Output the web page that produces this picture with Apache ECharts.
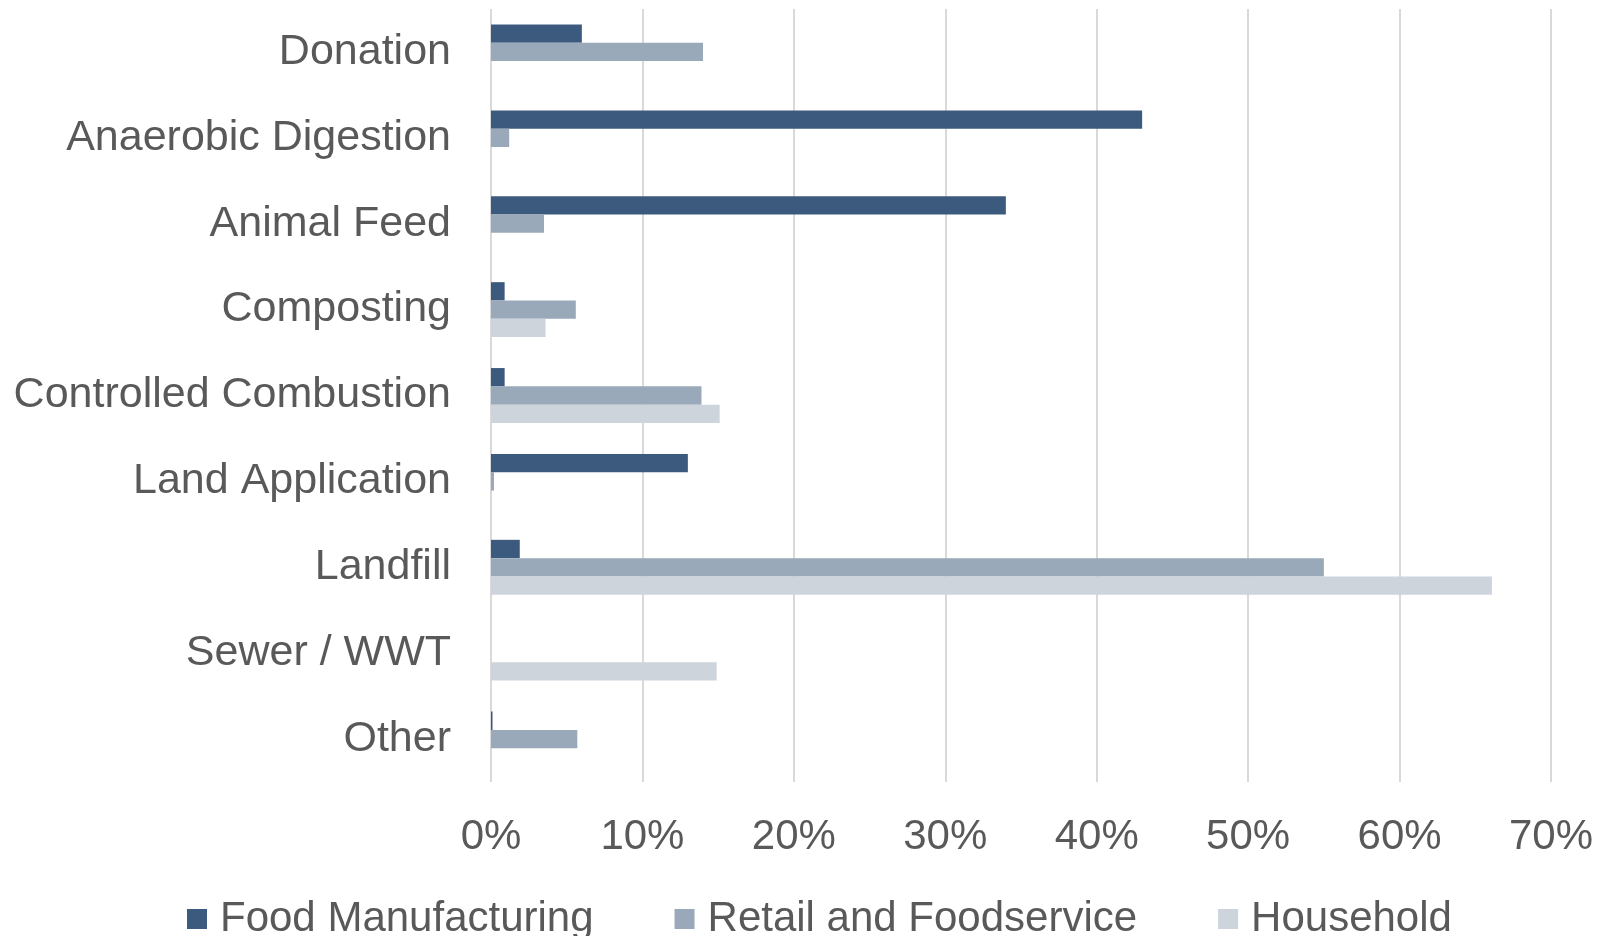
<!DOCTYPE html>
<html>
<head>
<meta charset="utf-8">
<style>
  html, body { margin: 0; padding: 0; background: #ffffff; }
  #chart { width: 1598px; height: 936px; }
</style>
<script src="https://cdn.jsdelivr.net/npm/echarts@6/dist/echarts.min.js"></script>
</head>
<body>
<div id="chart"></div>
<script>
// Destinations of wasted food, share of each sector's total (%)
const categories = [
  'Donation', 'Anaerobic Digestion', 'Animal Feed', 'Composting',
  'Controlled Combustion', 'Land Application', 'Landfill', 'Sewer / WWT', 'Other'
];
const seriesNames = ['Food Manufacturing', 'Retail and Foodservice', 'Household'];
const foodManufacturing = [6, 43, 34, 0.9, 0.9, 13, 1.9, null, 0.1];
const retailFoodservice = [14, 1.2, 3.5, 5.6, 13.9, 0.2, 55.0, null, 5.7];
const household = [null, null, null, 3.6, 15.1, null, 66.1, 14.9, null];
const tickValues = [0, 10, 20, 30, 40, 50, 60, 70];

const colors = ['#3c5a7e', '#9aa9ba', '#cdd4dc'];
const textColor = '#595959';
const fontFamily = "'Liberation Sans', Arial, sans-serif";

const chart = echarts.init(document.getElementById('chart'), null, { renderer: 'canvas' });

const barSeries = [foodManufacturing, retailFoodservice, household].map((values, i) => ({
  name: seriesNames[i],
  type: 'bar',
  data: values,
  barWidth: 18.3,
  barGap: '0%',
  itemStyle: { color: colors[i] },
  emphasis: { disabled: true }
}));

chart.setOption({
  animation: false,
  color: colors,
  grid: { left: 491, right: 47, top: 9, bottom: 154, containLabel: false },
  xAxis: {
    type: 'value',
    min: tickValues[0],
    max: tickValues[tickValues.length - 1],
    interval: tickValues[1] - tickValues[0],
    axisLine: { show: false },
    axisTick: { show: false },
    splitLine: { show: true, lineStyle: { color: '#d9d9d9', width: 2 } },
    axisLabel: {
      formatter: '{value}%',
      color: textColor,
      fontFamily: fontFamily,
      fontSize: 42,
      margin: 34
    }
  },
  yAxis: {
    type: 'category',
    data: categories,
    inverse: true,
    axisLine: { show: false },
    axisTick: { show: false },
    splitLine: { show: false },
    axisLabel: {
      color: textColor,
      fontFamily: fontFamily,
      fontSize: 43,
      margin: 40
    }
  },
  legend: {
    data: seriesNames,
    left: 182,
    top: 893,
    icon: 'rect',
    itemWidth: 20,
    itemHeight: 20,
    itemGap: 81,
    selectedMode: false,
    textStyle: {
      color: textColor,
      fontFamily: fontFamily,
      fontSize: 42,
      padding: [0, 0, 0, 8]
    }
  },
  series: barSeries
});
</script>
</body>
</html>
